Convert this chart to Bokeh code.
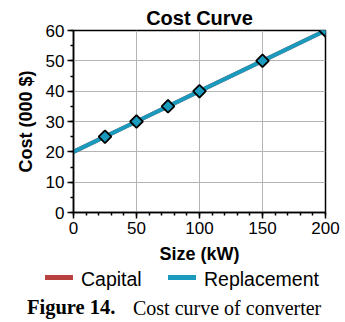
import math
from bokeh.plotting import figure
from bokeh.layouts import column
from bokeh.models import FixedTicker, Range1d, Div
from bokeh.embed import file_html
from bokeh.resources import INLINE

# ---- data ----
size_kw = [0, 25, 50, 75, 100, 150, 200]
capital_cost = [20, 25, 30, 35, 40, 50, 60]
replacement_cost = [20, 25, 30, 35, 40, 50, 60]
marker_size_kw = [25, 50, 75, 100, 150, 200]
marker_cost = [25, 30, 35, 40, 50, 60]

x_ticks = [0, 50, 100, 150, 200]
x_minor = list(range(0, 201, 10))
y_ticks = [0, 10, 20, 30, 40, 50, 60]
y_minor = list(range(0, 61, 5))

title_text = "Cost Curve"
x_label = "Size (kW)"
y_label = "Cost (000 $)"
series_names = ["Capital", "Replacement"]
caption_bold = "Figure 14."
caption_text = "Cost curve of converter"

RED = "#b8413f"
TEAL = "#1a9abc"
SANS = "Liberation Sans"
SERIF = "Liberation Serif"

p = figure(width=345, height=266,
           min_border_left=73, min_border_right=20,
           min_border_top=30, min_border_bottom=51,
           x_range=Range1d(0, 200), y_range=Range1d(0, 60),
           output_backend="svg", toolbar_location=None,
           title=title_text)

p.title.text_font = SANS
p.title.text_font_size = "20px"
p.title.text_font_style = "bold"
p.title.align = "center"
p.title.standoff = 4
p.title.text_color = "black"

p.outline_line_color = "black"
p.outline_line_width = 1.5
p.background_fill_color = "white"
p.border_fill_color = "white"

for ax, ticks, minor, lab in ((p.xaxis[0], x_ticks, x_minor, x_label),
                              (p.yaxis[0], y_ticks, y_minor, y_label)):
    ax.ticker = FixedTicker(ticks=ticks, minor_ticks=minor)
    ax.axis_label = lab
    ax.axis_label_text_font = SANS
    ax.axis_label_text_font_style = "bold"
    ax.axis_label_text_font_size = "18px"
    ax.axis_label_text_color = "black"
    ax.major_label_text_font = SANS
    ax.major_label_text_font_size = "17px"
    ax.major_label_text_color = "black"
    ax.axis_line_color = "black"
    ax.axis_line_width = 1.5
    ax.major_tick_line_color = "black"
    ax.minor_tick_line_color = "black"
    ax.major_tick_line_width = 1.5
    ax.minor_tick_line_width = 1.5
    ax.major_tick_in = 0
    ax.major_tick_out = 6
    ax.minor_tick_in = 0
    ax.minor_tick_out = 3

p.xaxis.major_label_standoff = 3
p.yaxis.major_label_standoff = 3
p.xaxis.axis_label_standoff = 7
p.yaxis.axis_label_standoff = 7

p.xgrid.ticker = FixedTicker(ticks=x_ticks)
p.ygrid.ticker = FixedTicker(ticks=y_ticks)
p.grid.grid_line_color = "#b4b4b4"
p.grid.grid_line_width = 1

p.line(size_kw, capital_cost, line_color=RED, line_width=4)
p.line(size_kw, replacement_cost, line_color=TEAL, line_width=4)
p.scatter(marker_size_kw, marker_cost, marker="square", angle=math.pi / 4,
          size=9, fill_color=TEAL, line_color="black", line_width=1.8)

# ---- legend + caption (HTML strip under the chart) ----
def bar(left, color):
    return (f'<span style="position:absolute;left:{left}px;top:9px;'
            f'width:28px;height:5px;background:{color};"></span>')

def txt(left, top, text, font, size, weight="normal"):
    return (f'<span style="position:absolute;left:{left}px;top:{top}px;'
            f'font-family:\'{font}\';font-size:{size}px;font-weight:{weight};'
            f'line-height:1;white-space:nowrap;color:black;">{text}</span>')

html = ('<div style="position:relative;width:345px;height:56px;">'
        + bar(45, RED) + txt(81, 4, series_names[0], SANS, 19.5)
        + bar(168, TEAL) + txt(204, 4, series_names[1], SANS, 19.5)
        + txt(27, 31, caption_bold, SERIF, 20.5, "bold")
        + txt(133, 32, caption_text, SERIF, 20)
        + '</div>')

caption = Div(text=html, width=345, height=56, margin=(0, 0, 0, 0))

layout = column(p, caption, spacing=0)
open("out.html", "w").write(file_html(layout, INLINE))
